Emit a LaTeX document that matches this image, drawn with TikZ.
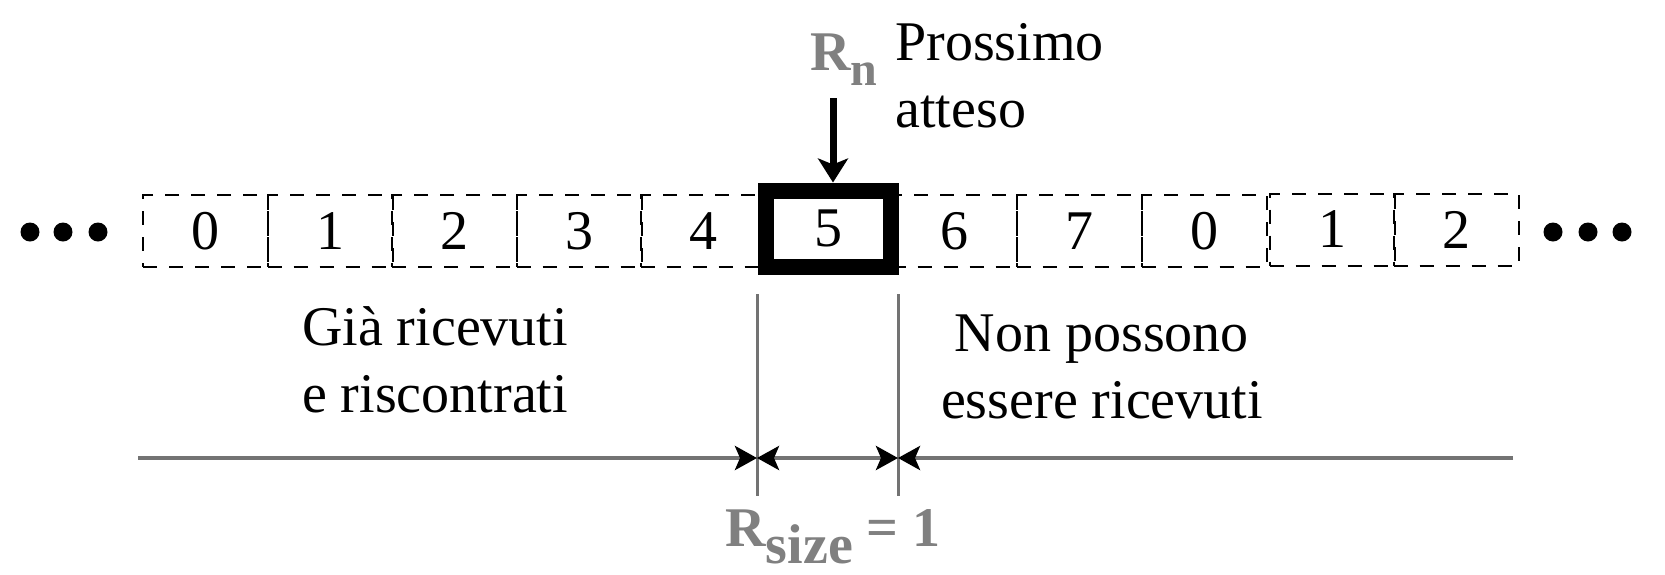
\documentclass[tikz,border=0pt]{standalone}
\usepackage{fontspec}
\setmainfont{Liberation Serif}
\usetikzlibrary{arrows.meta}
\definecolor{labelgray}{gray}{0.5}
\definecolor{linegray}{gray}{0.45}
\tikzset{
    bigfont/.style={font=\fontsize{28pt}{33.5pt}\selectfont},
    cell/.style={rectangle, draw, dash pattern=on 7pt off 6pt, line width=1pt,
        minimum width=62.5pt, minimum height=36pt, inner sep=0pt, bigfont},
    nextcell/.style={rectangle, draw, line width=8pt, minimum width=62.5pt,
        minimum height=38pt, inner sep=0pt, bigfont},
    dot/.style={circle, fill, inner sep=0pt, minimum size=9.5pt},
    mark line/.style={draw=linegray, line width=1.5pt},
    span line/.style={draw=linegray, line width=2pt},
    dimtip/.tip={Stealth[length=11pt, width=12pt, inset=2.5pt, color=black]}
}
\begin{document}
\begin{tikzpicture}[x=0.5pt, y=-0.5pt]
    \useasboundingbox (0,0) rectangle (1665,574);
    % dots
    \node [dot] (l1) at (30,232) {};
    \node [dot] (l2) at (63,232) {};
    \node [dot] (l3) at (98,232) {};
    \node [dot] (r1) at (1553,232) {};
    \node [dot] (r2) at (1588,232) {};
    \node [dot] (r3) at (1622,232) {};
    % sequence numbers
    \node [cell] (s0) at (205.5,231) {0};
    \node [cell] (s1) at (330,231) {1};
    \node [cell] (s2) at (454.5,231) {2};
    \node [cell] (s3) at (579,231) {3};
    \node [cell] (s4) at (703,231) {4};
    \node [cell] (s6) at (954,231) {6};
    \node [cell] (s7) at (1079,231) {7};
    \node [cell] (s8) at (1204,231) {0};
    \node [cell] (s9) at (1332,229.5) {1};
    \node [cell] (s10) at (1456,229.5) {2};
    \node [nextcell] (s5) at (828,228.5) {5};
    % pointer
    \node [anchor=base west, inner sep=0pt, bigfont, text=labelgray] (rn) at (810,70)
        {\bfseries R\raisebox{-7.5pt}{\fontsize{24pt}{24pt}\selectfont n}};
    \node [anchor=base west, inner sep=0pt, bigfont, align=left] (next) at (895,127)
        {Prossimo\\atteso};
    \coordinate (rntop) at (833,98);
    \draw [line width=3.5pt, -{Stealth[length=12pt, width=15pt, inset=3pt]}]
        (rntop) -- (rntop |- s5.north);
    % regions
    \node [anchor=base, inner sep=0pt, bigfont, align=center] (done) at (435,412)
        {Già ricevuti\\e riscontrati};
    \node [anchor=base, inner sep=0pt, bigfont, align=center] (later) at (1102,418)
        {Non possono\\essere ricevuti};
    \coordinate (at) at (757,294);
    \coordinate (ab) at (757,496);
    \coordinate (bt) at (898,294);
    \coordinate (bb) at (898,496);
    \path [mark line] (at) -- (ab);
    \path [mark line] (bt) -- (bb);
    \coordinate (hl) at (138,458);
    \coordinate (ha) at (757,458);
    \coordinate (hb) at (898,458);
    \coordinate (hr) at (1513,458);
    \path [span line, -dimtip] (hl) -- (ha);
    \path [span line, dimtip-dimtip] (ha) -- (hb);
    \path [span line, -dimtip] (hr) -- (hb);
    \node [anchor=base west, inner sep=0pt, bigfont, text=labelgray] (rsize) at (725,546)
        {\bfseries R\raisebox{-8.5pt}{size} = 1};
\end{tikzpicture}
\end{document}
